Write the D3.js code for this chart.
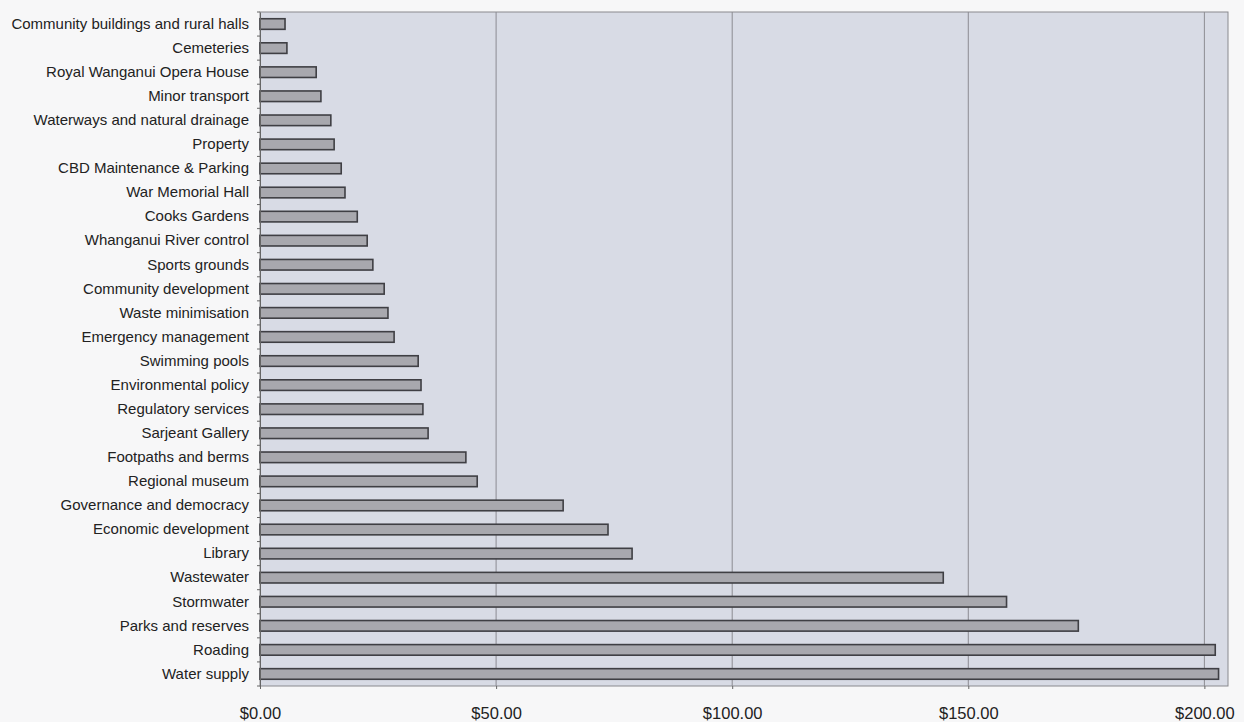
<!DOCTYPE html>
<html>
<head>
<meta charset="utf-8">
<script src="https://cdn.jsdelivr.net/npm/d3@7"></script>
<style>
  body { margin: 0; background: #f7f7f8; }
  svg { display: block; }
</style>
</head>
<body>
<svg id="chart" width="1244" height="722"></svg>
<script>
// Danh mục (từ trên xuống)
const categories = [
  "Community buildings and rural halls", "Cemeteries", "Royal Wanganui Opera House",
  "Minor transport", "Waterways and natural drainage", "Property",
  "CBD Maintenance & Parking", "War Memorial Hall", "Cooks Gardens",
  "Whanganui River control", "Sports grounds", "Community development",
  "Waste minimisation ", "Emergency management", "Swimming pools",
  "Environmental policy", "Regulatory services", "Sarjeant Gallery",
  "Footpaths and berms", "Regional museum", "Governance and democracy",
  "Economic development", "Library", "Wastewater", "Stormwater",
  "Parks and reserves", "Roading", "Water supply"
];
const values = [
  5.3, 5.7, 11.9, 12.9, 15.0, 15.7, 17.2, 18.0, 20.6, 22.7, 23.9, 26.3,
  27.1, 28.4, 33.5, 34.1, 34.5, 35.6, 43.6, 46.0, 64.2, 73.7, 78.8,
  144.7, 158.1, 173.3, 202.3, 203.0
];
const xTicks = [0, 50, 100, 150, 200];

const data = categories.map((c, i) => ({ name: c, value: values[i] }));

const svg = d3.select("#chart"),
      margin = {top: 12, right: 16, bottom: 36, left: 260},
      width = +svg.attr("width") - margin.left - margin.right,
      height = +svg.attr("height") - margin.top - margin.bottom;

const g = svg.append("g").attr("transform", `translate(${margin.left},${margin.top})`);

const x = d3.scaleLinear().domain([0, 205]).range([0, width]);
const y = d3.scaleBand().domain(categories).range([0, height]).paddingInner(0.56).paddingOuter(0.28);

// Nền vùng vẽ
g.append("rect")
  .attr("width", width).attr("height", height)
  .attr("fill", "#d8dbe5")
  .attr("stroke", "#8a8a8e").attr("stroke-width", 1);

// Lưới dọc
g.selectAll("line.grid")
  .data(xTicks.slice(1))
  .enter().append("line")
    .attr("class", "grid")
    .attr("x1", d => x(d)).attr("x2", d => x(d))
    .attr("y1", 0).attr("y2", height)
    .attr("stroke", "#8c8c92").attr("stroke-width", 1);

// Vẽ cột
g.selectAll("rect.bar")
  .data(data)
  .enter().append("rect")
    .attr("class", "bar")
    .attr("x", x(0))
    .attr("y", d => y(d.name))
    .attr("width", d => x(d.value) - x(0))
    .attr("height", y.bandwidth())
    .attr("fill", "#a8a8ae")
    .attr("stroke", "#3f3f44")
    .attr("stroke-width", 1.6);

// Trục Y
const yAxis = g.append("g")
  .call(d3.axisLeft(y).tickSize(0).tickPadding(11));
yAxis.select(".domain").attr("stroke", "#666");
yAxis.selectAll("text")
  .style("font-family", "'Liberation Sans', Arial, sans-serif")
  .style("font-size", "15px")
  .attr("fill", "#222");

// vạch nhỏ giữa các danh mục
g.selectAll("line.ytick")
  .data(d3.range(categories.length + 1))
  .enter().append("line")
    .attr("class", "ytick")
    .attr("x1", -3).attr("x2", 0)
    .attr("y1", i => i * height / categories.length)
    .attr("y2", i => i * height / categories.length)
    .attr("stroke", "#666");

// Trục X
const xAxis = g.append("g")
  .attr("transform", `translate(0,${height})`)
  .call(d3.axisBottom(x).tickValues(xTicks).tickSize(3).tickPadding(18)
        .tickFormat(d => "$" + d3.format(".2f")(d)));
xAxis.select(".domain").remove();
xAxis.selectAll("line").attr("stroke", "#666");
xAxis.selectAll("text")
  .style("font-family", "'Liberation Sans', Arial, sans-serif")
  .style("font-size", "16.5px")
  .attr("fill", "#222");
</script>
</body>
</html>
